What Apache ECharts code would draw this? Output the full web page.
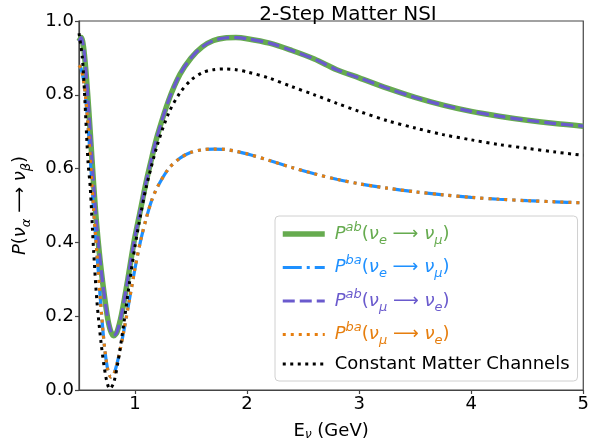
<!DOCTYPE html>
<html>
<head>
<meta charset="utf-8">
<script src="https://cdn.jsdelivr.net/npm/echarts@6/dist/echarts.min.js"></script>
<style>
  html, body { margin: 0; padding: 0; background: #fff; }
  #chart { width: 592px; height: 447px; }
</style>
</head>
<body>
<div id="chart"></div>
<script>
// P^ab curves (nu_e -> nu_mu and nu_mu -> nu_e coincide)
const energyAb = [0.5, 0.52, 0.54, 0.56, 0.58, 0.6, 0.63, 0.66, 0.7, 0.75, 0.78, 0.81, 0.84, 0.88, 0.93, 0.99,
  1.05, 1.1, 1.15, 1.2, 1.3, 1.4, 1.5, 1.6, 1.7, 1.8, 1.9, 2.0, 2.2, 2.4, 2.6, 2.8, 3.0, 3.25, 3.5, 3.75,
  4.0, 4.25, 4.5, 4.75, 5.0];
const probAb = [0.945, 0.955, 0.93, 0.87, 0.79, 0.70, 0.56, 0.44, 0.32, 0.205, 0.162, 0.147, 0.158, 0.205, 0.29, 0.40,
  0.49, 0.565, 0.63, 0.69, 0.785, 0.855, 0.90, 0.93, 0.947, 0.954, 0.955, 0.952, 0.94, 0.92, 0.897, 0.868, 0.846, 0.818, 0.793, 0.772,
  0.755, 0.742, 0.731, 0.722, 0.715];

// P^ba curves (both channels coincide)
const energyBa = [0.5, 0.52, 0.54, 0.56, 0.58, 0.6, 0.63, 0.66, 0.7, 0.73, 0.76, 0.785, 0.81, 0.85, 0.9, 0.95,
  1.0, 1.05, 1.1, 1.15, 1.2, 1.3, 1.4, 1.5, 1.6, 1.7, 1.8, 1.9, 2.0, 2.2, 2.4, 2.6, 2.8, 3.0, 3.25, 3.5, 3.75,
  4.0, 4.25, 4.5, 4.75, 5.0];
const probBa = [0.88, 0.87, 0.84, 0.79, 0.72, 0.63, 0.49, 0.37, 0.21, 0.11, 0.05, 0.035, 0.042, 0.085, 0.16, 0.245,
  0.33, 0.405, 0.465, 0.515, 0.55, 0.60, 0.628, 0.644, 0.651, 0.653, 0.652, 0.647, 0.64, 0.622, 0.603, 0.586, 0.571, 0.559, 0.547, 0.537, 0.529,
  0.522, 0.517, 0.513, 0.51, 0.507];

// constant matter channels
const energyConst = [0.5, 0.53, 0.55, 0.58, 0.6, 0.63, 0.66, 0.7, 0.74, 0.775, 0.81, 0.85, 0.9, 0.95,
  1.0, 1.05, 1.1, 1.2, 1.3, 1.4, 1.5, 1.6, 1.7, 1.8, 1.9, 2.0, 2.2, 2.4, 2.6, 2.8, 3.0, 3.25, 3.5, 3.75,
  4.0, 4.25, 4.5, 4.75, 5.0];
const probConst = [0.967, 0.90, 0.80, 0.62, 0.55, 0.38, 0.24, 0.12, 0.035, 0.003, 0.02, 0.08, 0.18, 0.29,
  0.39, 0.475, 0.55, 0.665, 0.75, 0.805, 0.84, 0.86, 0.868, 0.87, 0.868, 0.862, 0.845, 0.822, 0.80, 0.777, 0.755, 0.73, 0.71, 0.692,
  0.678, 0.665, 0.655, 0.645, 0.636];

const xTicks = [1, 2, 3, 4, 5];

const seriesNames = ['abEM', 'baEM', 'abME', 'baME', 'const'];
const legendLabels = {
  abEM: '{i|P}{sup|ab}({i|ν}{sub|e} ⟶ {i|ν}{sub|μ})',
  baEM: '{i|P}{sup|ba}({i|ν}{sub|e} ⟶ {i|ν}{sub|μ})',
  abME: '{i|P}{sup|ab}({i|ν}{sub|μ} ⟶ {i|ν}{sub|e})',
  baME: '{i|P}{sup|ba}({i|ν}{sub|μ} ⟶ {i|ν}{sub|e})',
  const: '{t|Constant Matter Channels}'
};
const colors = {
  abEM: '#66ab4f',
  baEM: '#1e90ff',
  abME: '#6a5acd',
  baME: '#e67e0e',
  const: '#000000'
};
const widths = { abEM: 5.5, baEM: 3.2, abME: 3.2, baME: 3.2, const: 3 };
const dashes = { abEM: 'solid', baEM: [19, 5, 3, 5], abME: [12, 5], baME: [3, 5], const: [3, 4.5] };

function pairs(xs, ys) {
  return xs.map((x, i) => [x, ys[i]]);
}

const font = 'DejaVu Sans';
const chart = echarts.init(document.getElementById('chart'));

function line(name, xs, ys) {
  return {
    name: name,
    type: 'line',
    data: pairs(xs, ys),
    smooth: 0.3,
    showSymbol: false,
    symbol: 'none',
    itemStyle: { color: colors[name] },
    lineStyle: { color: colors[name], width: widths[name], type: dashes[name], cap: 'butt' },
    z: 2
  };
}

const option = {
  animation: false,
  title: {
    text: '2-Step Matter NSI',
    left: 343,
    top: 0,
    textAlign: 'center',
    textStyle: { fontFamily: font, fontSize: 20, fontWeight: 'normal', color: '#000' }
  },
  grid: {
    left: 79, right: 4, top: 21, bottom: 57,
    show: true, borderColor: '#444', borderWidth: 1.2, backgroundColor: 'transparent'
  },
  legend: {
    orient: 'vertical',
    left: 275,
    top: 216,
    padding: [5, 8, 8, 5],
    itemWidth: 42,
    itemHeight: 14,
    itemGap: 7.5,
    backgroundColor: 'rgba(255,255,255,0.85)',
    borderColor: '#d0d0d0',
    borderWidth: 1,
    borderRadius: 4,
    itemStyle: { opacity: 0 },
    data: seriesNames.map(n => ({
      name: n,
      textStyle: { color: colors[n] },
      lineStyle: { color: colors[n], width: widths[n], type: dashes[n], cap: 'butt' }
    })),
    formatter: n => legendLabels[n],
    textStyle: {
      fontFamily: font,
      fontSize: 18,
      padding: [0, 0, 0, 5],
      rich: {
        t: { fontFamily: font, fontSize: 18, lineHeight: 26 },
        i: { fontFamily: font, fontSize: 18, fontStyle: 'italic', lineHeight: 26 },
        sup: { fontFamily: font, fontSize: 13, fontStyle: 'italic', verticalAlign: 'top', lineHeight: 26 },
        sub: { fontFamily: font, fontSize: 13, fontStyle: 'italic', verticalAlign: 'bottom', lineHeight: 22 }
      }
    }
  },
  xAxis: {
    type: 'value',
    min: 0.5,
    max: 5,
    name: 'E{sub|ν} (GeV)',
    nameLocation: 'middle',
    nameGap: 31,
    nameTextStyle: {
      fontFamily: font, fontSize: 18, color: '#000',
      rich: { sub: { fontFamily: font, fontSize: 12, fontStyle: 'italic', verticalAlign: 'bottom', lineHeight: 20 } }
    },
    splitLine: { show: false },
    axisLine: { show: true, onZero: false, lineStyle: { color: '#444', width: 1.2 } },
    axisTick: { show: true, customValues: xTicks, length: 4, lineStyle: { color: '#444', width: 1.2 } },
    axisLabel: {
      customValues: xTicks,
      fontFamily: font, fontSize: 18, color: '#000', margin: 5,
      formatter: v => String(v)
    }
  },
  yAxis: {
    type: 'value',
    min: 0,
    max: 1,
    interval: 0.2,
    name: '{i|P}({i|ν}{sub|α} ⟶ {i|ν}{sub|β})',
    nameLocation: 'middle',
    nameGap: 46,
    nameRotate: 90,
    nameTextStyle: {
      fontFamily: font, fontSize: 18, color: '#000',
      rich: {
        i: { fontFamily: font, fontSize: 18, fontStyle: 'italic', lineHeight: 26 },
        sub: { fontFamily: font, fontSize: 13, fontStyle: 'italic', verticalAlign: 'bottom', lineHeight: 22 }
      }
    },
    splitLine: { show: false },
    axisLine: { show: true, lineStyle: { color: '#444', width: 1.2 } },
    axisTick: { show: true, length: 4, lineStyle: { color: '#444', width: 1.2 } },
    axisLabel: {
      fontFamily: font, fontSize: 18, color: '#000', margin: 5,
      formatter: v => v.toFixed(1)
    }
  },
  series: [
    line('abEM', energyAb, probAb),
    line('baEM', energyBa, probBa),
    line('abME', energyAb, probAb),
    line('baME', energyBa, probBa),
    line('const', energyConst, probConst)
  ]
};

chart.setOption(option);
</script>
</body>
</html>
